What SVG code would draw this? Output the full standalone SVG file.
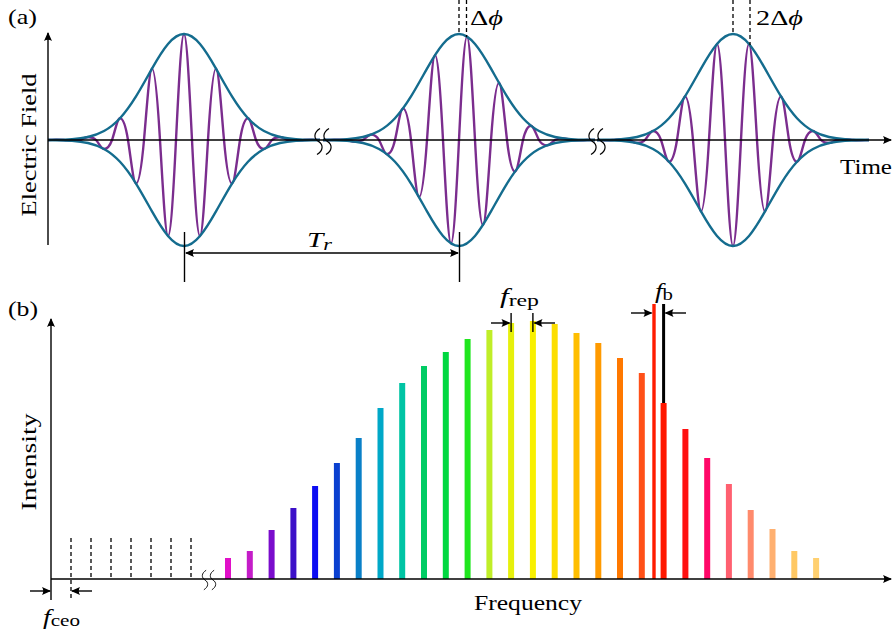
<svg xmlns="http://www.w3.org/2000/svg" xmlns:xlink="http://www.w3.org/1999/xlink" width="893" height="634" viewBox="0 0 893 634">
<style>
.ax{stroke:#000;stroke-width:1.4;fill:none}
.dash{stroke:#000;stroke-width:1.3;stroke-dasharray:4 3;fill:none}
.env{stroke:#146c8e;stroke-width:2.4;fill:none}
.car{stroke:#7b2d8e;stroke-width:2.4;fill:none}
.brk{stroke:#000;stroke-width:1.2;fill:none}
.t{font-family:"Liberation Serif","DejaVu Serif",serif;font-size:21px;fill:#000}
.i{font-style:italic}
.s{font-size:16px}
</style>
<defs>
<marker id="ah" viewBox="-10 -5 12 10" refX="0" refY="0" markerWidth="12" markerHeight="10" markerUnits="userSpaceOnUse" orient="auto-start-reverse">
<path d="M1,0 L-8,-4 Q-5.5,0 -8,4 Z" fill="#000"/>
</marker>
<path id="env" d="M-136,0 L-128,-0.19 C-122.67,-0.29 -117.33,-0.45 -112,-0.84 C-106.67,-1.23 -101.33,-1.83 -96,-3.03 C-90.67,-4.23 -85.33,-6.02 -80,-8.98 C-74.67,-11.94 -69.33,-16.06 -64,-21.8 C-58.67,-27.54 -53.33,-34.99 -48,-43.6 C-42.67,-52.21 -37.33,-62 -32,-71.4 C-26.67,-80.8 -21.33,-89.68 -16,-96 C-10.67,-102.32 -5.33,-106 0,-106 C5.33,-106 10.67,-102.32 16,-96 C21.33,-89.68 26.67,-80.8 32,-71.4 C37.33,-62 42.67,-52.21 48,-43.6 C53.33,-34.99 58.67,-27.54 64,-21.8 C69.33,-16.06 74.67,-11.94 80,-8.98 C85.33,-6.02 90.67,-4.23 96,-3.03 C101.33,-1.83 106.67,-1.23 112,-0.84 C117.33,-0.45 122.67,-0.29 128,-0.19 L136,0"/>
<path id="car1" d="M-136,0 C-133.33,0 -130.67,-0.19 -128,-0.19 C-125.33,-0.19 -122.67,-0.21 -120,0 C-117.33,0.21 -114.67,0.84 -112,0.84 C-109.33,0.84 -106.67,0.85 -104,0 C-101.33,-0.85 -98.67,-3.03 -96,-3.03 C-93.33,-3.03 -90.67,-2.8 -88,0 C-85.33,2.8 -82.67,8.98 -80,8.98 C-77.33,8.98 -74.67,7.5 -72,0 C-69.33,-7.5 -66.67,-21.8 -64,-21.8 C-61.33,-21.8 -58.67,-16.5 -56,0 C-53.33,16.5 -50.67,43.6 -48,43.6 C-45.33,43.6 -42.67,29.9 -40,0 C-37.33,-29.9 -34.67,-71.4 -32,-71.4 C-29.33,-71.4 -26.67,-44.5 -24,0 C-21.33,44.5 -18.67,96 -16,96 C-13.33,96 -10.67,54.1 -8,0 C-5.33,-54.1 -2.67,-106 0,-106 C2.67,-106 5.33,-54.1 8,0 C10.67,54.1 13.33,96 16,96 C18.67,96 21.33,44.5 24,0 C26.67,-44.5 29.33,-71.4 32,-71.4 C34.67,-71.4 37.33,-29.9 40,0 C42.67,29.9 45.33,43.6 48,43.6 C50.67,43.6 53.33,16.5 56,0 C58.67,-16.5 61.33,-21.8 64,-21.8 C66.67,-21.8 69.33,-7.5 72,0 C74.67,7.5 77.33,8.98 80,8.98 C82.67,8.98 85.33,2.8 88,0 C90.67,-2.8 93.33,-3.03 96,-3.03 C98.67,-3.03 101.33,-0.85 104,0 C106.67,0.85 109.33,0.84 112,0.84 C114.67,0.84 117.33,0.21 120,0 C122.67,-0.21 125.33,-0.19 128,-0.19 C130.67,-0.19 133.33,0 136,0"/>
<path id="car2" d="M-136,0 L-128,0 C-125.33,-0.1 -122.67,-0.41 -120,-0.41 C-117.33,-0.41 -114.67,-0.44 -112,0 C-109.33,0.44 -106.67,1.63 -104,1.63 C-101.33,1.63 -98.67,1.6 -96,0 C-93.33,-1.6 -90.67,-5.34 -88,-5.34 C-85.33,-5.34 -82.67,-4.7 -80,0 C-77.33,4.7 -74.67,14.3 -72,14.3 C-69.33,14.3 -66.67,11.4 -64,0 C-61.33,-11.4 -58.67,-31.6 -56,-31.6 C-53.33,-31.6 -50.67,-22.8 -48,0 C-45.33,22.8 -42.67,57.2 -40,57.2 C-37.33,57.2 -34.67,37.4 -32,0 C-29.33,-37.4 -26.67,-84.9 -24,-84.9 C-21.33,-84.9 -18.67,-50.3 -16,0 C-13.33,50.3 -10.67,103.4 -8,103.4 C-5.33,103.4 -2.67,55.5 0,0 C2.67,-55.5 5.33,-103.4 8,-103.4 C10.67,-103.4 13.33,-50.3 16,0 C18.67,50.3 21.33,84.9 24,84.9 C26.67,84.9 29.33,37.4 32,0 C34.67,-37.4 37.33,-57.2 40,-57.2 C42.67,-57.2 45.33,-22.8 48,0 C50.67,22.8 53.33,31.6 56,31.6 C58.67,31.6 61.33,11.4 64,0 C66.67,-11.4 69.33,-14.3 72,-14.3 C74.67,-14.3 77.33,-4.7 80,0 C82.67,4.7 85.33,5.34 88,5.34 C90.67,5.34 93.33,1.6 96,0 C98.67,-1.6 101.33,-1.63 104,-1.63 C106.67,-1.63 109.33,-0.44 112,0 C114.67,0.44 117.33,0.41 120,0.41 C122.67,0.41 125.33,0.1 128,0 L136,0"/>
<path id="brk" d="M1.5,-13 C-5,-9 -5,-3 0,0 C5,3 5,9 -1.5,13"/>
</defs>

<!-- Panel (a) -->
<g id="label-a"><text class="t" x="8" y="24" textLength="29" lengthAdjust="spacingAndGlyphs">(a)</text></g>
<g id="ylabel-a"><text class="t" text-anchor="middle" transform="translate(36,145) rotate(-90)" textLength="143" lengthAdjust="spacingAndGlyphs">Electric Field</text></g>

<g id="pulse1" transform="translate(184,140)">
<use href="#car1" class="car"/>
<use href="#env" class="env"/>
<use href="#env" class="env" transform="scale(1,-1)"/>
</g>
<g id="pulse2" transform="translate(459,140)">
<use href="#car2" class="car"/>
<use href="#env" class="env"/>
<use href="#env" class="env" transform="scale(1,-1)"/>
</g>
<g id="pulse3" transform="translate(733,140)">
<use href="#car1" class="car" transform="scale(1,-1)"/>
<use href="#env" class="env"/>
<use href="#env" class="env" transform="scale(1,-1)"/>
</g>

<g id="axes-a">
<line class="ax" x1="48" y1="245" x2="48" y2="33" marker-end="url(#ah)"/>
<line class="ax" x1="48" y1="140" x2="891" y2="140" marker-end="url(#ah)"/>
<use href="#brk" class="brk" transform="translate(318.5,141.5)"/>
<use href="#brk" class="brk" transform="translate(327.5,141.5)"/>
<use href="#brk" class="brk" transform="translate(592.5,141.5)"/>
<use href="#brk" class="brk" transform="translate(601.5,141.5)"/>
</g>
<g id="xlabel-a"><text class="t" x="840" y="174" textLength="52" lengthAdjust="spacingAndGlyphs">Time</text></g>

<g id="phase">
<line class="dash" x1="459" y1="0" x2="459" y2="34"/>
<line class="dash" x1="466.5" y1="0" x2="466.5" y2="37"/>
<line class="dash" x1="733" y1="0" x2="733" y2="34"/>
<line class="dash" x1="750" y1="0" x2="750" y2="45"/>
<text class="t" x="470" y="25" textLength="33" lengthAdjust="spacingAndGlyphs">Δ<tspan class="i">ϕ</tspan></text>
<text class="t" x="756" y="25" textLength="47" lengthAdjust="spacingAndGlyphs">2Δ<tspan class="i">ϕ</tspan></text>
</g>

<g id="Tr">
<line class="ax" x1="184.5" y1="232" x2="184.5" y2="282"/>
<line class="ax" x1="459.5" y1="232" x2="459.5" y2="282"/>
<line class="ax" x1="186" y1="253" x2="458" y2="253" marker-start="url(#ah)" marker-end="url(#ah)"/>
<text class="t" x="307" y="247" textLength="25" lengthAdjust="spacingAndGlyphs"><tspan class="i">T</tspan><tspan class="s i" dy="3">r</tspan></text>
</g>

<!-- Panel (b) -->
<g id="label-b"><text class="t" x="8" y="316" textLength="30" lengthAdjust="spacingAndGlyphs">(b)</text></g>
<g id="ylabel-b"><text class="t" text-anchor="middle" transform="translate(36,462) rotate(-90)" textLength="97" lengthAdjust="spacingAndGlyphs">Intensity</text></g>

<g id="dashed-comb">
<line class="dash" x1="71" y1="538" x2="71" y2="600"/>
<line class="dash" x1="91" y1="538" x2="91" y2="579"/>
<line class="dash" x1="111" y1="538" x2="111" y2="579"/>
<line class="dash" x1="131" y1="538" x2="131" y2="579"/>
<line class="dash" x1="151" y1="538" x2="151" y2="579"/>
<line class="dash" x1="171" y1="538" x2="171" y2="579"/>
<line class="dash" x1="191" y1="538" x2="191" y2="579"/>
</g>

<g id="comb">
<rect x="225.0" y="558" width="6" height="21" fill="#e010c8"/>
<rect x="246.8" y="551" width="6" height="28" fill="#c41cc8"/>
<rect x="268.6" y="530" width="6" height="49" fill="#7a0ccc"/>
<rect x="290.4" y="508" width="6" height="71" fill="#3c10c8"/>
<rect x="312.1" y="486" width="6" height="93" fill="#0c0cf2"/>
<rect x="333.9" y="463" width="6" height="116" fill="#0a40d0"/>
<rect x="355.7" y="438" width="6" height="141" fill="#0a80c8"/>
<rect x="377.5" y="408" width="6" height="171" fill="#00a8c8"/>
<rect x="399.2" y="383" width="6" height="196" fill="#00c4a4"/>
<rect x="421.0" y="366" width="6" height="213" fill="#00cc64"/>
<rect x="442.8" y="352" width="6" height="227" fill="#00d840"/>
<rect x="464.6" y="339" width="6" height="240" fill="#20e61e"/>
<rect x="486.4" y="330" width="6" height="249" fill="#c0ee28"/>
<rect x="508.1" y="323" width="6" height="256" fill="#e6f00c"/>
<rect x="529.9" y="321" width="6" height="258" fill="#f8f000"/>
<rect x="551.7" y="324" width="6" height="255" fill="#fcde00"/>
<rect x="573.5" y="333" width="6" height="246" fill="#ffbe00"/>
<rect x="595.3" y="343" width="6" height="236" fill="#ff9a00"/>
<rect x="617.0" y="358" width="6" height="221" fill="#ff7800"/>
<rect x="638.8" y="373" width="6" height="206" fill="#ff5018"/>
<rect x="660.6" y="403" width="6" height="176" fill="#ff1800"/>
<rect x="682.4" y="429" width="6" height="150" fill="#ff1010"/>
<rect x="704.2" y="458" width="6" height="121" fill="#ff0868"/>
<rect x="725.9" y="484" width="6" height="95" fill="#ff6070"/>
<rect x="747.7" y="510" width="6" height="69" fill="#ff8a6c"/>
<rect x="769.5" y="529" width="6" height="50" fill="#ffb070"/>
<rect x="791.3" y="551" width="6" height="28" fill="#ffc864"/>
<rect x="813.1" y="558" width="6" height="21" fill="#ffd070"/>
<rect x="652.3" y="304" width="3.4" height="275" fill="#ff1c00"/>
<rect x="662.1" y="304" width="3" height="99" fill="#000"/>
</g>

<g id="axes-b">
<line class="ax" x1="51" y1="600" x2="51" y2="319" marker-end="url(#ah)"/>
<line class="ax" x1="51" y1="579" x2="891" y2="579" marker-end="url(#ah)"/>
<use href="#brk" class="brk" transform="translate(205,580) scale(0.75)"/>
<use href="#brk" class="brk" transform="translate(213,580) scale(0.75)"/>
</g>
<g id="xlabel-b"><text class="t" x="528" y="610" text-anchor="middle" textLength="108" lengthAdjust="spacingAndGlyphs">Frequency</text></g>

<g id="fceo">
<line class="ax" x1="30" y1="591" x2="50" y2="591" marker-end="url(#ah)"/>
<line class="ax" x1="92" y1="591" x2="72" y2="591" marker-end="url(#ah)"/>
<text class="t" x="43" y="624" textLength="37" lengthAdjust="spacingAndGlyphs"><tspan class="i">f</tspan><tspan class="s" dy="2">ceo</tspan></text>
</g>

<g id="frep">
<line class="ax" x1="511.1" y1="313" x2="511.1" y2="332"/>
<line class="ax" x1="532.9" y1="313" x2="532.9" y2="332"/>
<line class="ax" x1="491" y1="323" x2="509.5" y2="323" marker-end="url(#ah)"/>
<line class="ax" x1="555" y1="323" x2="534.5" y2="323" marker-end="url(#ah)"/>
<text class="t" x="500" y="303" textLength="39" lengthAdjust="spacingAndGlyphs"><tspan class="i">f</tspan><tspan class="s" dy="3">rep</tspan></text>
</g>

<g id="fb">
<line class="ax" x1="631" y1="313" x2="651.5" y2="313" marker-end="url(#ah)"/>
<line class="ax" x1="686" y1="313" x2="665.5" y2="313" marker-end="url(#ah)"/>
<text class="t" x="655" y="298" textLength="18" lengthAdjust="spacingAndGlyphs"><tspan class="i">f</tspan><tspan class="s" dy="2">b</tspan></text>
</g>
</svg>
